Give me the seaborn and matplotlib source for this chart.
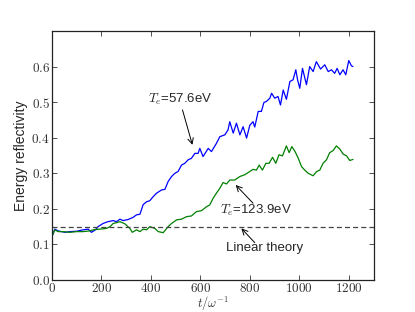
import numpy as np
import pandas as pd
import matplotlib
matplotlib.use('Agg')
import matplotlib.pyplot as plt
from matplotlib.ticker import FuncFormatter
import seaborn as sns

# Energy reflectivity vs time
t_blue = [0, 12, 25, 53, 73, 100, 126, 147, 160, 174, 187, 207, 227, 248, 261, 275,
          288, 308, 328, 342, 356, 369, 383, 396, 409, 423, 443, 457, 470, 484, 497,
          510, 524, 537, 551, 564, 578, 591, 598, 611, 632, 645, 665, 679, 699, 712,
          719, 733, 746, 760, 773, 787, 800, 813, 820, 834, 847, 857, 867, 881, 888,
          901, 914, 924, 935, 948, 962, 975, 986, 993, 1002, 1013, 1029, 1042, 1056,
          1069, 1086, 1103, 1117, 1130, 1143, 1153, 1164, 1177, 1188, 1200, 1211, 1217]
r_blue = [0.122, 0.143, 0.138, 0.134, 0.136, 0.137, 0.141, 0.143, 0.134, 0.140, 0.150,
          0.159, 0.164, 0.167, 0.164, 0.171, 0.167, 0.170, 0.176, 0.183, 0.185, 0.212,
          0.220, 0.223, 0.234, 0.244, 0.253, 0.255, 0.277, 0.291, 0.300, 0.305, 0.323,
          0.328, 0.338, 0.342, 0.356, 0.356, 0.370, 0.347, 0.370, 0.361, 0.384, 0.403,
          0.408, 0.422, 0.445, 0.413, 0.441, 0.408, 0.431, 0.399, 0.435, 0.445, 0.430,
          0.474, 0.474, 0.499, 0.502, 0.511, 0.525, 0.511, 0.516, 0.492, 0.534, 0.508,
          0.558, 0.563, 0.591, 0.563, 0.539, 0.595, 0.549, 0.600, 0.586, 0.614, 0.593,
          0.605, 0.586, 0.591, 0.581, 0.595, 0.577, 0.591, 0.577, 0.617, 0.602, 0.600]

t_green = [0, 12, 25, 45, 73, 100, 126, 153, 167, 194, 221, 235, 248, 261, 275, 295,
           315, 325, 342, 356, 369, 383, 396, 416, 430, 450, 470, 484, 504, 524, 544,
           564, 584, 605, 625, 638, 652, 665, 679, 692, 706, 719, 739, 760, 780, 800,
           813, 827, 838, 851, 865, 878, 892, 905, 918, 932, 948, 959, 970, 983, 996,
           1009, 1022, 1036, 1056, 1070, 1083, 1096, 1110, 1123, 1137, 1150, 1164,
           1177, 1191, 1204, 1217]
r_green = [0.122, 0.141, 0.136, 0.136, 0.134, 0.136, 0.136, 0.138, 0.141, 0.143,
           0.145, 0.150, 0.159, 0.161, 0.164, 0.158, 0.145, 0.134, 0.141, 0.136,
           0.143, 0.141, 0.150, 0.145, 0.136, 0.133, 0.150, 0.159, 0.169, 0.171,
           0.178, 0.180, 0.192, 0.195, 0.206, 0.211, 0.230, 0.244, 0.258, 0.274,
           0.270, 0.281, 0.281, 0.291, 0.296, 0.305, 0.311, 0.309, 0.323, 0.309,
           0.328, 0.328, 0.345, 0.328, 0.352, 0.349, 0.377, 0.358, 0.375, 0.361,
           0.342, 0.319, 0.309, 0.300, 0.293, 0.305, 0.309, 0.328, 0.338, 0.358,
           0.364, 0.377, 0.368, 0.354, 0.349, 0.336, 0.339]

linear_theory = 0.15

x_ticks = [0, 200, 400, 600, 800, 1000, 1200]
y_ticks = [0.0, 0.1, 0.2, 0.3, 0.4, 0.5, 0.6]

sns.set_style('ticks')
plt.rcParams['font.family'] = ['Liberation Sans', 'DejaVu Sans']
plt.rcParams['mathtext.fontset'] = 'cm'
plt.rcParams['mathtext.rm'] = 'cmr10'

fig = plt.figure(figsize=(4.15, 3.12), dpi=100)
ax = fig.add_axes([0.125, 0.1026, 0.775, 0.798])

blue = pd.DataFrame({'t': t_blue, 'R': r_blue})
green = pd.DataFrame({'t': t_green, 'R': r_green})
sns.lineplot(data=blue, x='t', y='R', color='#0000ff', lw=0.9, ax=ax,
             estimator=None, sort=False)
sns.lineplot(data=green, x='t', y='R', color='#008000', lw=0.9, ax=ax,
             estimator=None, sort=False)
ax.axhline(linear_theory, color='#444444', ls='--', lw=0.9, dashes=(4, 2.5))

ax.set_xlim(0, 1300)
ax.set_ylim(0, 0.7)
ax.set_xticks(x_ticks)
ax.set_yticks(y_ticks)
ax.xaxis.set_major_formatter(FuncFormatter(lambda v, p: r'$\mathrm{%d}$' % v))
ax.yaxis.set_major_formatter(FuncFormatter(lambda v, p: r'$\mathrm{%.1f}$' % v))
ax.tick_params(direction='in', length=3.5, width=0.6, top=True, right=True,
               labelsize=9.5, pad=1.5, colors='#333333', labelcolor='#333333')
for s in ax.spines.values():
    s.set_linewidth(0.9)
    s.set_color('#222222')

ax.set_xlabel(r'$t/\omega^{-1}$', fontsize=9, labelpad=0, color='#333333')
ax.set_ylabel('Energy reflectivity', fontsize=10, labelpad=2)

arrow = dict(arrowstyle='->', color='k', lw=0.7, shrinkA=0, shrinkB=0)
ax.text(388, 0.509, r'$T_e$=57.6eV', fontsize=9.5, va='center', ha='left')
ax.annotate('', xy=(568, 0.38), xytext=(528, 0.478), arrowprops=arrow)
ax.text(679, 0.197, r'$T_e$=123.9eV', fontsize=9.5, va='center', ha='left')
ax.annotate('', xy=(743, 0.267), xytext=(813, 0.216), arrowprops=arrow)
ax.text(703, 0.089, 'Linear theory', fontsize=9.5, va='center', ha='left')
ax.annotate('', xy=(766, 0.145), xytext=(820, 0.105), arrowprops=arrow)

fig.savefig('out.png', dpi=100)
